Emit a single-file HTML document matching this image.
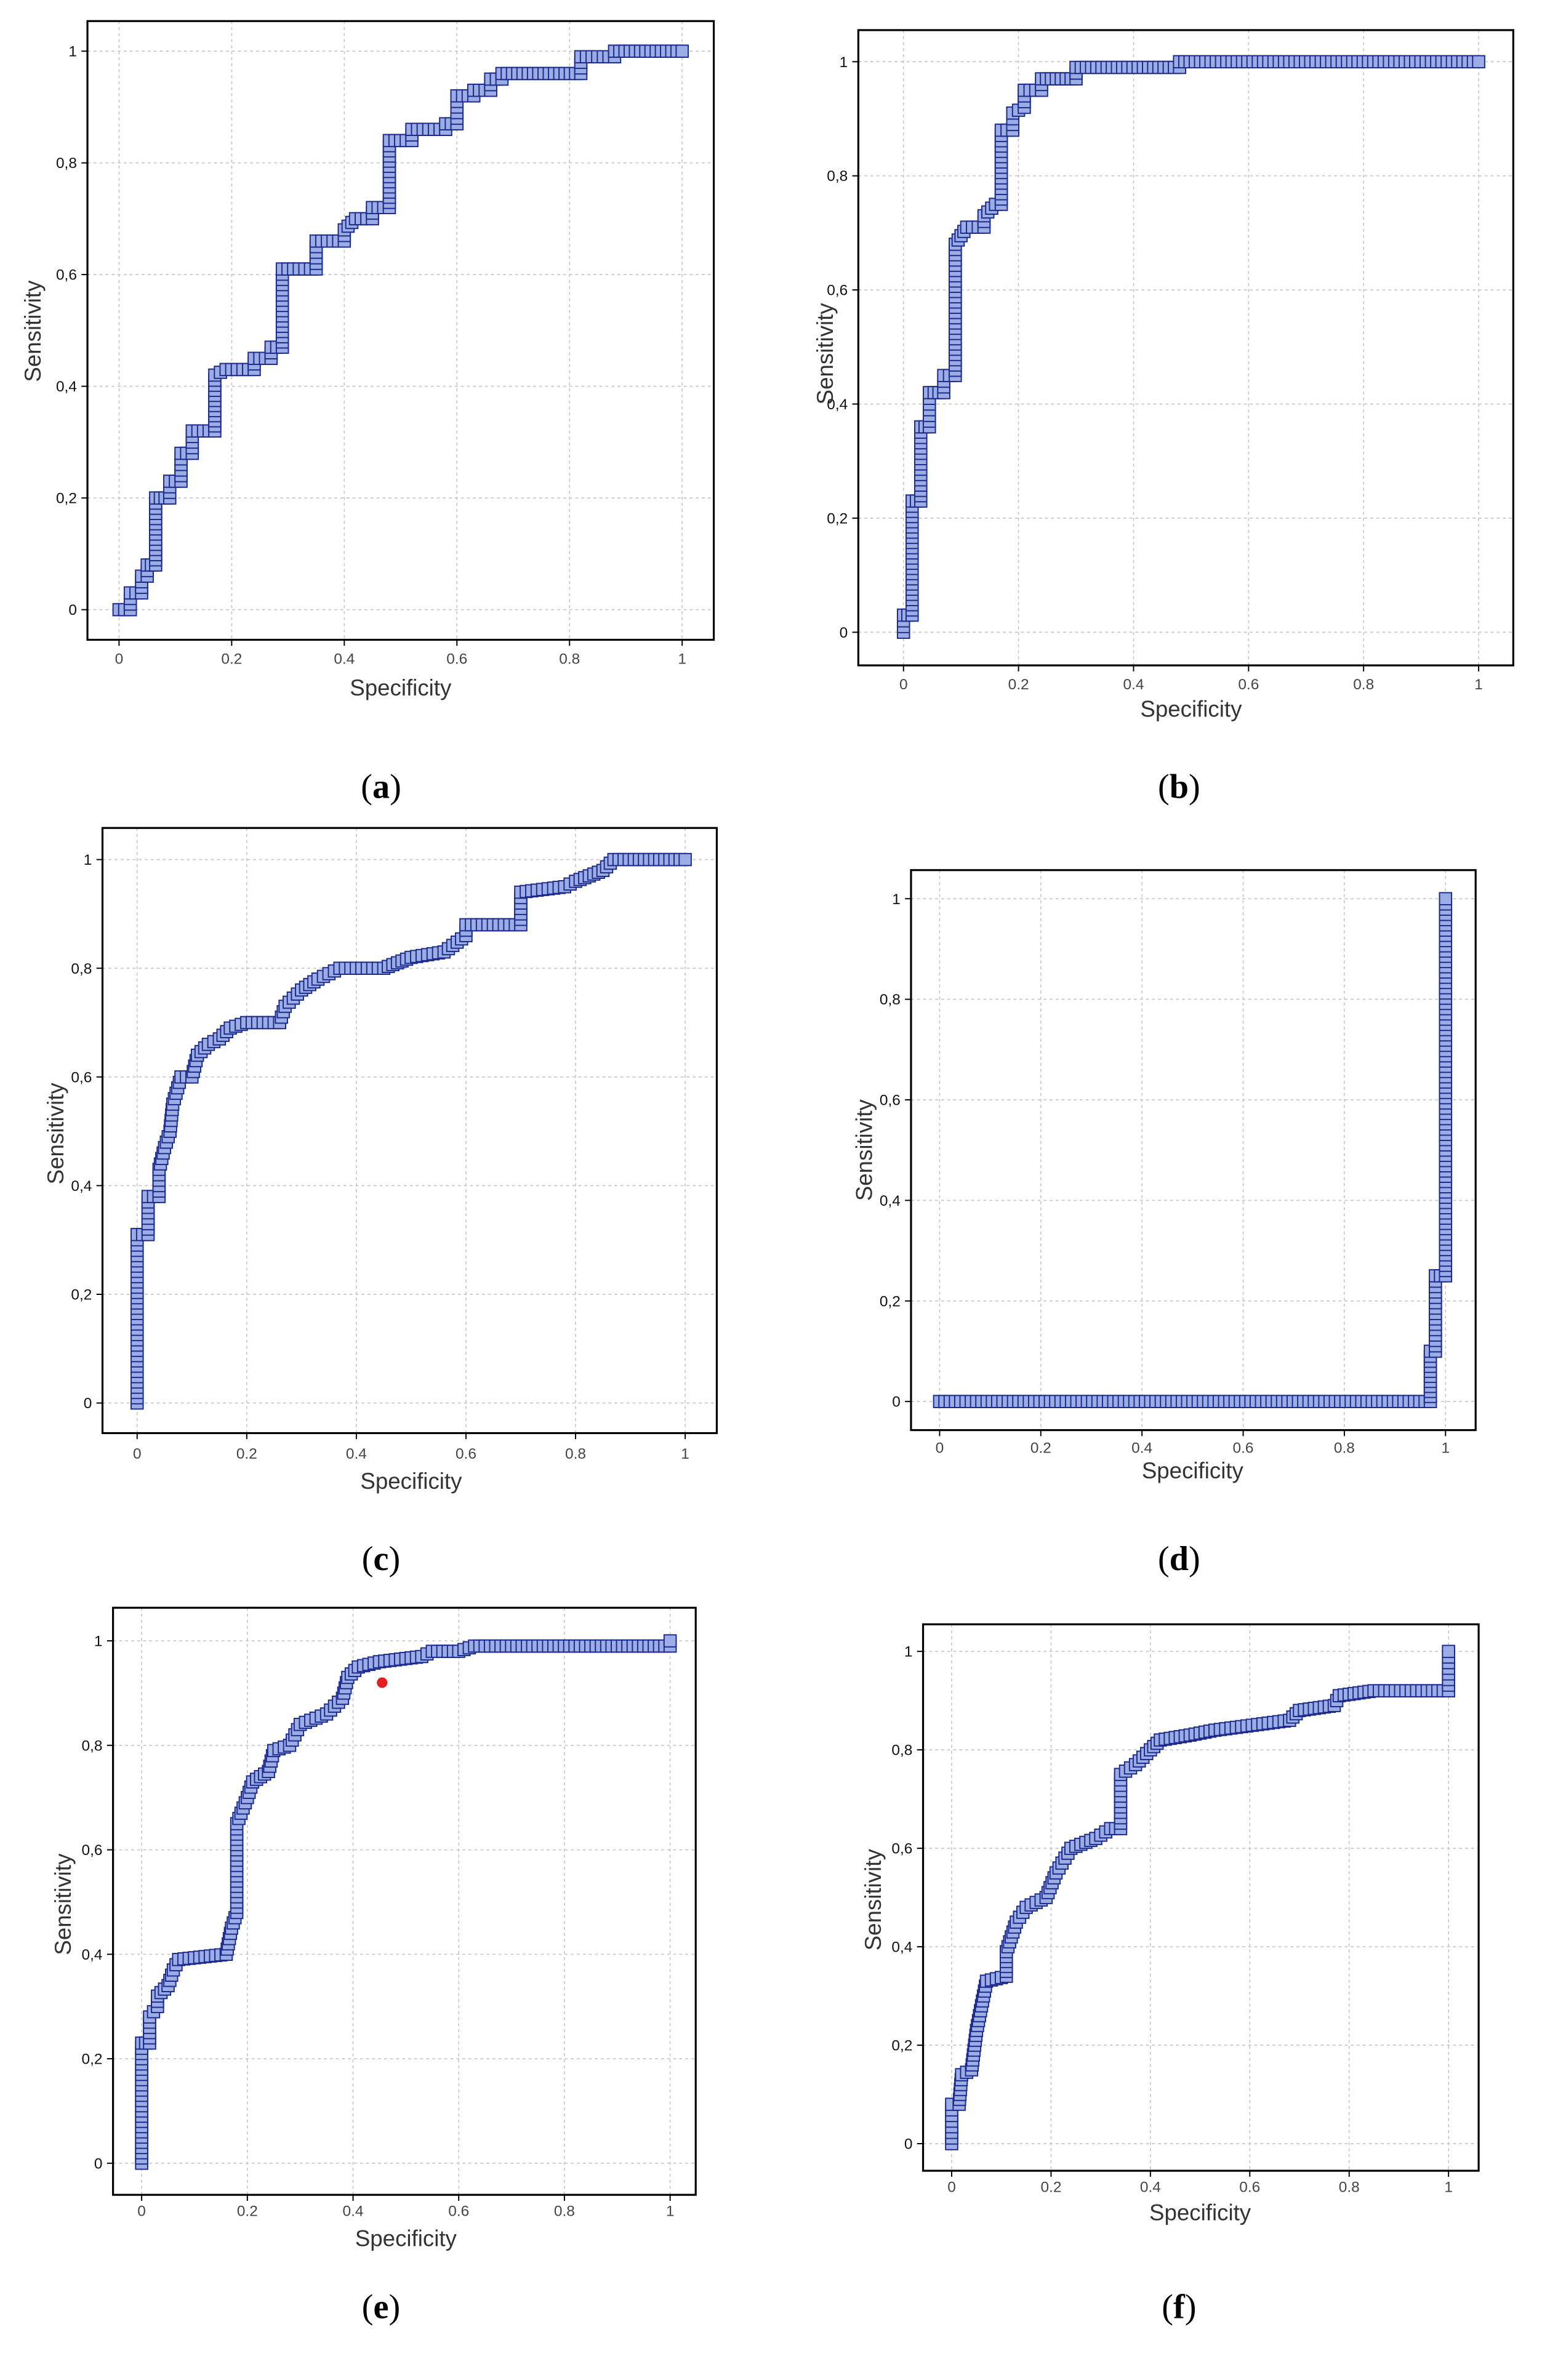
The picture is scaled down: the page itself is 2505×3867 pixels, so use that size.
<!DOCTYPE html>
<html><head><meta charset="utf-8">
<style>
html,body{margin:0;padding:0;background:#fff;}
svg{display:block;}
text{font-family:"Liberation Sans",sans-serif;}
.cap{font-family:"Liberation Serif",serif;font-size:23px;}
</style></head>
<body>
<svg id="fig" width="2505" height="3867" viewBox="0 0 1024 1581" xmlns="http://www.w3.org/2000/svg"></svg>
<script>
const ticks = [0, 0.2, 0.4, 0.6, 0.8, 1];
const xTickLabels = ["0", "0.2", "0.4", "0.6", "0.8", "1"];
const yTickLabels = ["0", "0,2", "0,4", "0,6", "0,8", "1"];
const captions = ["a", "b", "c", "d", "e", "f"];

const rocA = [[0,0],[0.02,0],[0.02,0.03],[0.04,0.03],[0.04,0.06],[0.05,0.06],[0.05,0.08],[0.065,0.08],[0.065,0.2],[0.09,0.2],[0.09,0.23],[0.11,0.23],[0.11,0.28],[0.13,0.28],[0.13,0.32],[0.17,0.32],[0.17,0.42],[0.19,0.43],[0.24,0.43],[0.24,0.45],[0.27,0.45],[0.27,0.47],[0.29,0.47],[0.29,0.61],[0.35,0.61],[0.35,0.66],[0.40,0.66],[0.40,0.68],[0.42,0.7],[0.45,0.7],[0.45,0.72],[0.48,0.72],[0.48,0.84],[0.52,0.84],[0.52,0.86],[0.58,0.86],[0.58,0.87],[0.6,0.87],[0.6,0.92],[0.63,0.92],[0.63,0.93],[0.66,0.93],[0.66,0.95],[0.68,0.95],[0.68,0.96],[0.82,0.96],[0.82,0.99],[0.88,0.99],[0.88,1],[1,1]];
const rocB = [[0,0],[0,0.03],[0.015,0.03],[0.015,0.23],[0.03,0.23],[0.03,0.36],[0.045,0.36],[0.045,0.42],[0.07,0.42],[0.07,0.45],[0.09,0.45],[0.09,0.68],[0.11,0.71],[0.14,0.71],[0.14,0.73],[0.16,0.75],[0.17,0.75],[0.17,0.88],[0.19,0.88],[0.19,0.91],[0.21,0.92],[0.21,0.95],[0.24,0.95],[0.24,0.97],[0.3,0.97],[0.3,0.99],[0.48,0.99],[0.48,1],[1,1]];
const rocC = [[0,0],[0,0.31],[0.02,0.31],[0.02,0.38],[0.04,0.38],[0.04,0.43],[0.05,0.47],[0.06,0.5],[0.065,0.55],[0.08,0.6],[0.1,0.6],[0.11,0.64],[0.13,0.66],[0.15,0.67],[0.17,0.69],[0.2,0.7],[0.26,0.7],[0.27,0.73],[0.3,0.76],[0.33,0.78],[0.35,0.79],[0.37,0.8],[0.45,0.8],[0.5,0.82],[0.56,0.83],[0.6,0.86],[0.6,0.88],[0.7,0.88],[0.7,0.94],[0.78,0.95],[0.8,0.96],[0.85,0.98],[0.87,1],[1,1]];
const rocD = [[0,0],[0.97,0],[0.97,0.1],[0.98,0.1],[0.98,0.25],[1,0.25],[1,1]];
const rocE = [[0,0],[0,0.23],[0.015,0.23],[0.015,0.28],[0.03,0.3],[0.03,0.32],[0.05,0.34],[0.06,0.37],[0.07,0.39],[0.16,0.4],[0.17,0.45],[0.18,0.48],[0.18,0.65],[0.2,0.7],[0.21,0.73],[0.24,0.75],[0.25,0.79],[0.28,0.8],[0.3,0.84],[0.35,0.86],[0.38,0.89],[0.39,0.93],[0.41,0.95],[0.45,0.96],[0.53,0.97],[0.55,0.98],[0.6,0.98],[0.63,0.99],[1,0.99],[1,1]];
const rocF = [[0,0],[0,0.08],[0.015,0.08],[0.02,0.14],[0.04,0.15],[0.05,0.23],[0.07,0.33],[0.11,0.34],[0.11,0.39],[0.13,0.45],[0.15,0.48],[0.19,0.5],[0.21,0.55],[0.24,0.6],[0.29,0.62],[0.32,0.64],[0.34,0.64],[0.34,0.75],[0.37,0.77],[0.4,0.8],[0.42,0.82],[0.48,0.83],[0.53,0.84],[0.68,0.86],[0.7,0.88],[0.77,0.89],[0.78,0.91],[0.85,0.92],[1,0.92],[1,1]];
const cutoffE = [0.455, 0.92];

const NS = "http://www.w3.org/2000/svg";
const svg = document.getElementById("fig");
function mk(tag, attrs, parent) {
  const e = document.createElementNS(NS, tag);
  for (const k in attrs) e.setAttribute(k, attrs[k]);
  (parent || svg).appendChild(e);
  return e;
}
const layouts = [
  {fx0:58,fy0:14,fx1:474,fy1:425,x0:79,x1:453,y0:405,y1:34,xl:441,xt:462,yt:[22,220],cap:[253,530]},
  {fx0:570,fy0:20,fx1:1005,fy1:442,x0:600,x1:982,y0:420,y1:41,xl:458,xt:476,yt:[548,235],cap:[783,530]},
  {fx0:68,fy0:550,fx1:476,fy1:952,x0:91,x1:455,y0:932,y1:571,xl:969,xt:989,yt:[37,753],cap:[253,1043]},
  {fx0:605,fy0:578,fx1:980,fy1:950,x0:624,x1:960,y0:931,y1:597,xl:965,xt:982,yt:[574,764],cap:[783,1043]},
  {fx0:75,fy0:1068,fx1:462,fy1:1458,x0:94,x1:445,y0:1437,y1:1090,xl:1472,xt:1492,yt:[42,1265],cap:[253,1540]},
  {fx0:613,fy0:1079,fx1:982,fy1:1442,x0:632,x1:962,y0:1424,y1:1097,xl:1456,xt:1475,yt:[580,1262],cap:[783,1540]}
];
const series = [rocA, rocB, rocC, rocD, rocE, rocF];

layouts.forEach((L, i) => {
  const g = mk("g", {});
  
  
  const sx = v => L.x0 + v * (L.x1 - L.x0);
  const sy = v => L.y0 + v * (L.y1 - L.y0);
  ticks.forEach((t, k) => {
    const gx = mk("line", {x1:sx(t),x2:sx(t),y1:L.fy0,y2:L.fy1,stroke:"#c8c8c8","stroke-width":0.7,"stroke-dasharray":"2,2"}, g);
    
    
    const gy = mk("line", {x1:L.fx0,x2:L.fx1,y1:sy(t),y2:sy(t),stroke:"#c8c8c8","stroke-width":0.7,"stroke-dasharray":"2,2"}, g);
    
    
    mk("line", {x1:sx(t),x2:sx(t),y1:L.fy1,y2:L.fy1+4,stroke:"#000","stroke-width":0.8}, g);
    mk("line", {x1:L.fx0-4,x2:L.fx0,y1:sy(t),y2:sy(t),stroke:"#000","stroke-width":0.8}, g);
    const xt = mk("text", {x:sx(t),y:L.xl,"font-size":10,"text-anchor":"middle",fill:"#444"}, g);
    xt.textContent = xTickLabels[k];
    
    
    const yt = mk("text", {x:L.fx0-7,y:sy(t)+3.5,"font-size":10,"text-anchor":"end",fill:"#111"}, g);
    yt.textContent = yTickLabels[k];
    
    
  });
  const fr = mk("rect", {x:L.fx0,y:L.fy0,width:L.fx1-L.fx0,height:L.fy1-L.fy0,fill:"none",stroke:"#000","stroke-width":1.3}, g);
  
  
  const pts = series[i].map(p => [sx(p[0]), sy(p[1])]);
  const curve = mk("g", {}, g);
  
  
  const sq = 8;
  let marks = [];
  for (let k = 0; k < pts.length - 1; k++) {
    const [ax, ay] = pts[k], [bx, by] = pts[k+1];
    const d = Math.hypot(bx-ax, by-ay);
    const n = Math.max(1, Math.round(d / 3.5));
    for (let j = 0; j < n; j++) marks.push([ax + (bx-ax)*j/n, ay + (by-ay)*j/n]);
  }
  marks.push(pts[pts.length-1]);
  marks.forEach(m => {
    const r = mk("rect", {x:m[0]-sq/2,y:m[1]-sq/2,width:sq,height:sq,fill:"#9badE4",stroke:"#1c2a8c","stroke-width":0.8}, curve);
    
    
  });
  const xtitle = mk("text", {x:(L.x0+L.x1)/2,y:L.xt,"font-size":15,"text-anchor":"middle",fill:"#333"}, g);
  xtitle.textContent = "Specificity";
  
  
  const ytitle = mk("text", {x:L.yt[0],y:L.yt[1],"font-size":15,"text-anchor":"middle",fill:"#333",transform:`rotate(-90 ${L.yt[0]} ${L.yt[1]})`,dy:5}, g);
  ytitle.textContent = "Sensitivity";
  
  
  const cap = mk("text", {x:L.cap[0],y:L.cap[1],"text-anchor":"middle",class:"cap",fill:"#000"}, g);
  cap.innerHTML = '(<tspan font-weight="bold">' + captions[i] + '</tspan>)';
  
  
  if (i === 4) {
    const dot = mk("circle", {cx:sx(cutoffE[0]),cy:sy(cutoffE[1]),r:3.5,fill:"#e02020"}, g);
    
    
  }
});
</script>
</body></html>
